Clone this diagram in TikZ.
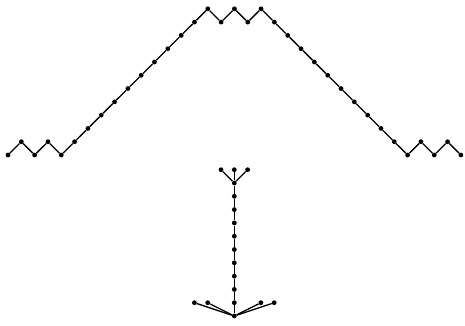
\documentclass[tikz,border=0pt]{standalone}
\begin{document}
\begin{tikzpicture}[x=1bp,y=-1bp,
  dot/.style={circle,fill=black,inner sep=0pt,minimum size=4.8bp},
  edge/.style={line width=1.3bp}]
\useasboundingbox (0,0) rectangle (465,325);
% Dyck path
\foreach \h [count=\i from 0] in {0,1,0,1,0,1,2,3,4,5,6,7,8,9,10,11,10,11,10,11,10,9,8,7,6,5,4,3,2,1,0,1,0,1,0}
  \node[dot] (p\i) at ({8+\i*13.32},{155-\h*13.29}) {};
\foreach \i [evaluate=\i as \j using int(\i+1)] in {0,...,33}
  \draw[edge] (p\i) -- (p\j);
% tree
\node[dot] (r) at (234.3,316) {};
\foreach \k in {1,...,10}
  \node[dot] (s\k) at (234.3,{302.7-(\k-1)*13.3}) {};
\node[dot] (l1) at (194.4,302.7) {};
\node[dot] (l2) at (207.7,302.7) {};
\node[dot] (l3) at (260.9,302.7) {};
\node[dot] (l4) at (274.2,302.7) {};
\node[dot] (t1) at (221.0,169.7) {};
\node[dot] (t2) at (234.3,169.7) {};
\node[dot] (t3) at (247.6,169.7) {};
\foreach \n in {l1,l2,l3,l4,s1}
  \draw[edge] (r) -- (\n);
\foreach \k [evaluate=\k as \m using int(\k+1)] in {1,...,9}
  \draw[edge] (s\k) -- (s\m);
\foreach \n in {t1,t2,t3}
  \draw[edge] (s10) -- (\n);
\end{tikzpicture}
\end{document}
